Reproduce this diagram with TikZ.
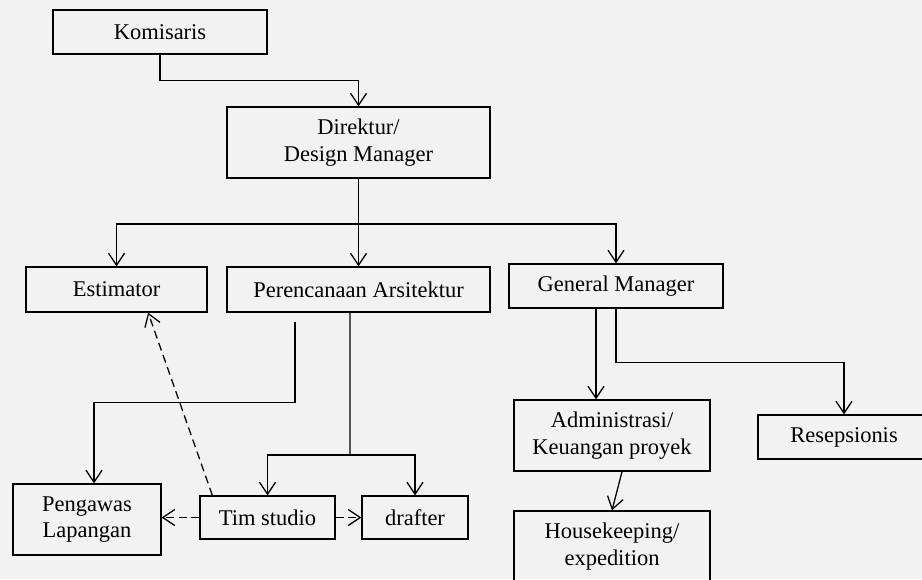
\documentclass[tikz,border=0pt]{standalone}
\usepackage{fontspec}
\setmainfont{Liberation Serif}
\usepackage{tikz}
\usetikzlibrary{arrows.meta}
\definecolor{pagebg}{RGB}{242,242,242}

\begin{document}
\begin{tikzpicture}[
    x=0.25mm, y=-0.25mm,
    box/.style={draw, line width=0.9pt, minimum width=#1, inner sep=2pt, align=center,
      font=\fontsize{16}{19}\selectfont},
    box/.default=40mm,
    tall/.style={minimum height=17.75mm},
    flat/.style={minimum height=11mm},
    link/.style={line width=0.9pt, ->},
    seen/.style={line width=0.9pt, ->, dash pattern=on 2mm off 1.2mm},
    >={Straight Barb[length=3mm, width=4mm]}
  ]
  \fill[pagebg] (0,0) rectangle (922,579);
  \useasboundingbox (0,0) rectangle (922,579);

  % top of the chart
  \node[box=53.5mm, flat] (kom) at (160,32) {Komisaris};
  \node[box=65.75mm, tall] (dir) at (358.5,142.5) {Direktur/\\Design Manager};

  % second row
  \node[box=45.25mm, minimum height=11.25mm] (est) at (116.5,289.5) {Estimator};
  \node[box=65.75mm, minimum height=11.25mm] (arsi) at (358.5,289.5) {Perencanaan Arsitektur};
  \node[box=53.5mm, flat] (gm) at (616,286) {General Manager};

  % under the general manager
  \node[box=49mm, tall] (admin) at (612,435.5) {Administrasi/\\Keuangan proyek};
  \node[box=43mm, flat] (resep) at (844,437) {Resepsionis};
  \node[box=49mm, tall] (house) at (612,546.5) {Housekeeping/\\expedition};

  % under the architecture team
  \node[box=37mm, tall] (lapangan) at (87,519.5) {Pengawas\\Lapangan};
  \node[box=33.75mm, minimum height=10.75mm] (studio) at (267.5,517.5) {Tim studio};
  \node[box=26.5mm, minimum height=10.75mm] (drafter) at (415,517.5) {drafter};

  \draw[link] (kom.south) -- ++(0,26) -| (dir.north);

  \coordinate (bus) at (358.5,224);
  \draw[link] (dir.south) -- (arsi.north);
  \draw[link] (bus) -| (est.north);
  \draw[link] (bus) -| (gm.north);

  \draw[link, shorten <=2.25mm] ([xshift=-15.9mm]arsi.south) -- ++(0,90) -| ([xshift=1.75mm]lapangan.north);
  \coordinate (sbus) at (350,455);
  \draw[line width=0.9pt] ([xshift=-2.1mm]arsi.south) -- (sbus);
  \draw[link] (sbus) -| (studio.north);
  \draw[link] (sbus) -| (drafter.north);

  \draw[link] ([xshift=-5mm]gm.south) -- ([xshift=-5mm]gm.south |- admin.north);
  \draw[link] (gm.south) -- ++(0,54) -| (resep.north);
  \draw[link] ([xshift=2.5mm]admin.south) -- (house.north);

  \draw[seen] ([xshift=3.25mm]studio.north west) -- ([xshift=7.9mm]est.south);
  \draw[seen] (studio.west) -- (studio.west -| lapangan.east);
  \draw[seen] (studio.east) -- (drafter.west);
\end{tikzpicture}
\end{document}
